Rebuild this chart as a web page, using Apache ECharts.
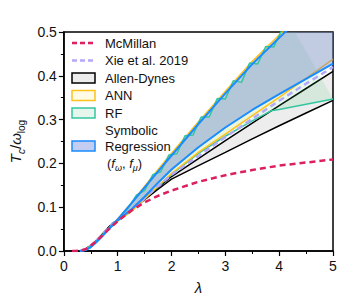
<!DOCTYPE html>
<html>
<head>
<meta charset="utf-8">
<script src="https://cdn.jsdelivr.net/npm/echarts@6/dist/echarts.min.js"></script>
<style>html,body{margin:0;padding:0;background:#fff}#c{width:350px;height:300px}</style>
</head>
<body>
<div id="c"></div>
<script>
// ---- data ----
const xTicks = [0, 1, 2, 3, 4, 5];
const yTicks = [0.0, 0.1, 0.2, 0.3, 0.4, 0.5];

const lamMc = [0.15,0.2,0.3,0.4,0.5,0.6,0.7,0.8,0.9,1,1.25,1.5,1.75,2,2.5,3,3.5,4,4.5,5];
const mcmillan = [0,0,0.0005,0.004,0.012,0.022,0.034,0.046,0.057,0.068,0.092,0.111,0.126,0.138,0.158,0.173,0.185,0.195,0.202,0.209];

const lam = [0.3,0.4,0.5,0.6,0.7,0.8,0.9,1,1.25,1.5,1.75,2,2.5,3,3.5,4,4.5,5];
const xie      = [0,0.004,0.012,0.023,0.036,0.049,0.062,0.070,0.095,0.121,0.148,0.174,0.217,0.260,0.302,0.343,0.382,0.420];
const adLow    = [0,0.0043,0.0125,0.0235,0.036,0.049,0.062,0.070,0.093,0.117,0.141,0.164,0.195,0.225,0.256,0.286,0.315,0.344];
const adHigh   = [0,0.0043,0.0126,0.0237,0.0365,0.050,0.063,0.071,0.094,0.119,0.145,0.170,0.211,0.252,0.292,0.332,0.371,0.410];
const annLow   = [0,0.003,0.011,0.022,0.034,0.047,0.059,0.068,0.090,0.118,0.148,0.177,0.225,0.267,0.309,0.351,0.394,0.438];
const annHigh  = [0,0.003,0.011,0.022,0.034,0.047,0.060,0.073,0.109,0.148,0.186,0.223,0.295,0.365,0.433,0.493,0.552,0.61];
const srLow    = [0,0.002,0.009,0.020,0.032,0.045,0.058,0.070,0.094,0.124,0.156,0.186,0.237,0.282,0.322,0.358,0.393,0.428];
const srHigh   = [0,0.002,0.009,0.020,0.033,0.046,0.059,0.072,0.108,0.145,0.182,0.218,0.290,0.360,0.427,0.487,0.545,0.60];

const lamRfLow = [0.3,0.4,0.5,0.6,0.7,0.8,0.9,1,1.25,1.5,1.75,2,2.5,3,3.5,3.85,4,4.5,5];
const rfLow    = [0,0.004,0.012,0.023,0.035,0.048,0.060,0.070,0.094,0.120,0.147,0.175,0.223,0.262,0.297,0.320,0.323,0.335,0.347];
const lamRfHigh = [0.3,0.4,0.5,0.6,0.7,0.8,0.9,1.0,1.2,1.35,1.5,1.65,1.8,1.95,2.1,2.25,2.4,2.55,2.7,2.85,3.0,3.15,3.3,3.45,3.6,3.75,3.9,4.05,4.2];
const rfHigh    = [0,0.003,0.011,0.022,0.034,0.047,0.060,0.072,0.099,0.128,0.138,0.174,0.181,0.219,0.222,0.263,0.265,0.306,0.306,0.348,0.347,0.389,0.385,0.429,0.427,0.467,0.466,0.505,0.52];

const legendNames = ['McMillan', 'Xie et al. 2019', 'Allen-Dynes', 'ANN', 'RF'];

// ---- styles ----
const C_MC = '#dc1f5f', C_XIE = '#b3a8fa', C_AD = '#000000', C_ANN = '#ffc21a', C_RF = '#34c6a0', C_SR = '#1a8cff';
const F_AD = 'rgba(0,0,0,0.07)', F_ANN = 'rgba(255,230,60,0.12)', F_RF = 'rgba(60,190,110,0.13)', F_SR = 'rgba(100,130,220,0.40)';
const FONT = 'Liberation Sans, Arial, sans-serif';

const pts = (xs, ys) => xs.map((x, i) => [x, ys[i]]);
function ring(xsLo, lo, xsHi, hi) {
  return pts(xsLo, lo).concat(pts(xsHi, hi).reverse());
}
function band(data, fill, z) {
  return {
    type: 'custom', z: z, clip: true, silent: true, data: data,
    renderItem: function (params, api) {
      if (params.dataIndex !== 0) return;
      const p = data.map(d => api.coord(d));
      return { type: 'polygon', shape: { points: p }, style: { fill: fill, stroke: null } };
    }
  };
}
function line(xs, ys, color, width, z, dash) {
  return {
    type: 'line', z: z, data: pts(xs, ys), showSymbol: false, symbol: 'none', clip: true, silent: true,
    lineStyle: { color: color, width: width, type: dash ? [6, 4] : 'solid' }
  };
}

const series = [
  band(ring(lam, adLow, lam, adHigh), F_AD, 2),
  line(lam, adLow, C_AD, 1.5, 3), line(lam, adHigh, C_AD, 1.5, 3),
  band(ring(lamRfLow, rfLow, lamRfHigh, rfHigh), F_RF, 4),
  line(lamRfLow, rfLow, C_RF, 1.5, 5),
  band(ring(lam, annLow, lam, annHigh), F_ANN, 6),
  line(lam, annLow, C_ANN, 1.5, 7), line(lam, annHigh, C_ANN, 1.5, 7),
  line(lam, xie, C_XIE, 2.5, 8, true),
  band(ring(lam, srLow, lam, srHigh), F_SR, 9),
  line(lamRfHigh, rfHigh, C_RF, 1.5, 10),
  line(lam, srLow, C_SR, 2, 11), line(lam, srHigh, C_SR, 2, 11),
  line(lamMc, mcmillan, C_MC, 2.5, 12, true)
];

// ---- legend drawn as graphic ----
const LX = 72, TX = 105, LY0 = 43, DY = 17.5;
const graphic = [];
const kinds = [
  { kind: 'dash', color: C_MC },
  { kind: 'dash', color: C_XIE },
  { kind: 'box', color: C_AD, fill: '#ececec' },
  { kind: 'box', color: C_ANN, fill: '#fffbe6' },
  { kind: 'box', color: C_RF, fill: '#e6f6ec' }
];
legendNames.forEach((nm, i) => {
  const y = LY0 + i * DY, k = kinds[i];
  if (k.kind === 'dash') {
    graphic.push({ type: 'line', shape: { x1: LX, y1: y, x2: LX + 23, y2: y }, style: { stroke: k.color, lineWidth: 2.5, lineDash: [5, 3] }, z: 100 });
  } else {
    graphic.push({ type: 'rect', shape: { x: LX, y: y - 5, width: 23, height: 10 }, style: { fill: k.fill, stroke: k.color, lineWidth: 1.5 }, z: 100 });
  }
  graphic.push({ type: 'text', x: TX, y: y, style: { text: nm, font: '13px ' + FONT, fill: '#111', textVerticalAlign: 'middle' }, z: 100 });
});
graphic.push({ type: 'rect', shape: { x: LX, y: 141, width: 23, height: 10 }, style: { fill: '#c3cdf2', stroke: C_SR, lineWidth: 1.5 }, z: 100 });
graphic.push({ type: 'text', x: TX, y: 130, style: { text: 'Symbolic', font: '13px ' + FONT, fill: '#111', textVerticalAlign: 'middle' }, z: 100 });
graphic.push({ type: 'text', x: TX, y: 146, style: { text: 'Regression', font: '13px ' + FONT, fill: '#111', textVerticalAlign: 'middle' }, z: 100 });
graphic.push({ type: 'text', x: TX + 2, y: 163, style: {
  text: '{n|(}{i|f}{s|ω}{n|, }{i|f}{s|μ}{n|)}', textVerticalAlign: 'middle',
  rich: {
    n: { fontSize: 13, fontFamily: FONT, fill: '#111', lineHeight: 18 },
    i: { fontSize: 13, fontFamily: FONT, fontStyle: 'italic', fill: '#111', lineHeight: 18 },
    s: { fontSize: 9, fontFamily: FONT, fontStyle: 'italic', fill: '#111', lineHeight: 18, verticalAlign: 'bottom' }
  } }, z: 100 });

const chart = echarts.init(document.getElementById('c'), null, { renderer: 'svg' });
chart.setOption({
  animation: false,
  backgroundColor: '#fff',
  grid: { left: 61, right: 17, top: 32, bottom: 42, show: true, borderColor: '#000', borderWidth: 1.5, backgroundColor: 'transparent' },
  xAxis: {
    type: 'value', min: xTicks[0], max: xTicks[xTicks.length - 1], interval: 1,
    name: 'λ', nameLocation: 'middle', nameGap: 29,
    nameTextStyle: { fontSize: 15, fontStyle: 'italic', fontFamily: FONT, color: '#111' },
    axisLine: { lineStyle: { color: '#000', width: 1.5 } },
    axisTick: { show: true, length: 5, lineStyle: { color: '#000', width: 1.2 } },
    minorTick: { show: true, splitNumber: 2, length: 3, lineStyle: { color: '#000', width: 1 } },
    axisLabel: { fontSize: 14, fontFamily: FONT, color: '#111', margin: 8, formatter: v => String(v) },
    splitLine: { show: false }
  },
  yAxis: {
    type: 'value', min: yTicks[0], max: yTicks[yTicks.length - 1], interval: 0.1,
    name: '{i|T}{si|c}{n|/}{i|ω}{s|log}', nameLocation: 'middle', nameGap: 34, nameRotate: 90,
    nameTextStyle: {
      rich: {
        i: { fontSize: 15, fontStyle: 'italic', fontFamily: FONT, color: '#111', lineHeight: 22 },
        n: { fontSize: 15, fontFamily: FONT, color: '#111', lineHeight: 22 },
        si: { fontSize: 10, fontStyle: 'italic', fontFamily: FONT, color: '#111', lineHeight: 22, verticalAlign: 'bottom' },
        s: { fontSize: 10, fontFamily: FONT, color: '#111', lineHeight: 22, verticalAlign: 'bottom' }
      }
    },
    axisLine: { lineStyle: { color: '#000', width: 1.5 } },
    axisTick: { show: true, length: 5, lineStyle: { color: '#000', width: 1.2 } },
    minorTick: { show: true, splitNumber: 2, length: 3, lineStyle: { color: '#000', width: 1 } },
    axisLabel: { fontSize: 14, fontFamily: FONT, color: '#111', margin: 7, formatter: v => v.toFixed(1) },
    splitLine: { show: false }
  },
  graphic: graphic,
  series: series
});
</script>
</body>
</html>
